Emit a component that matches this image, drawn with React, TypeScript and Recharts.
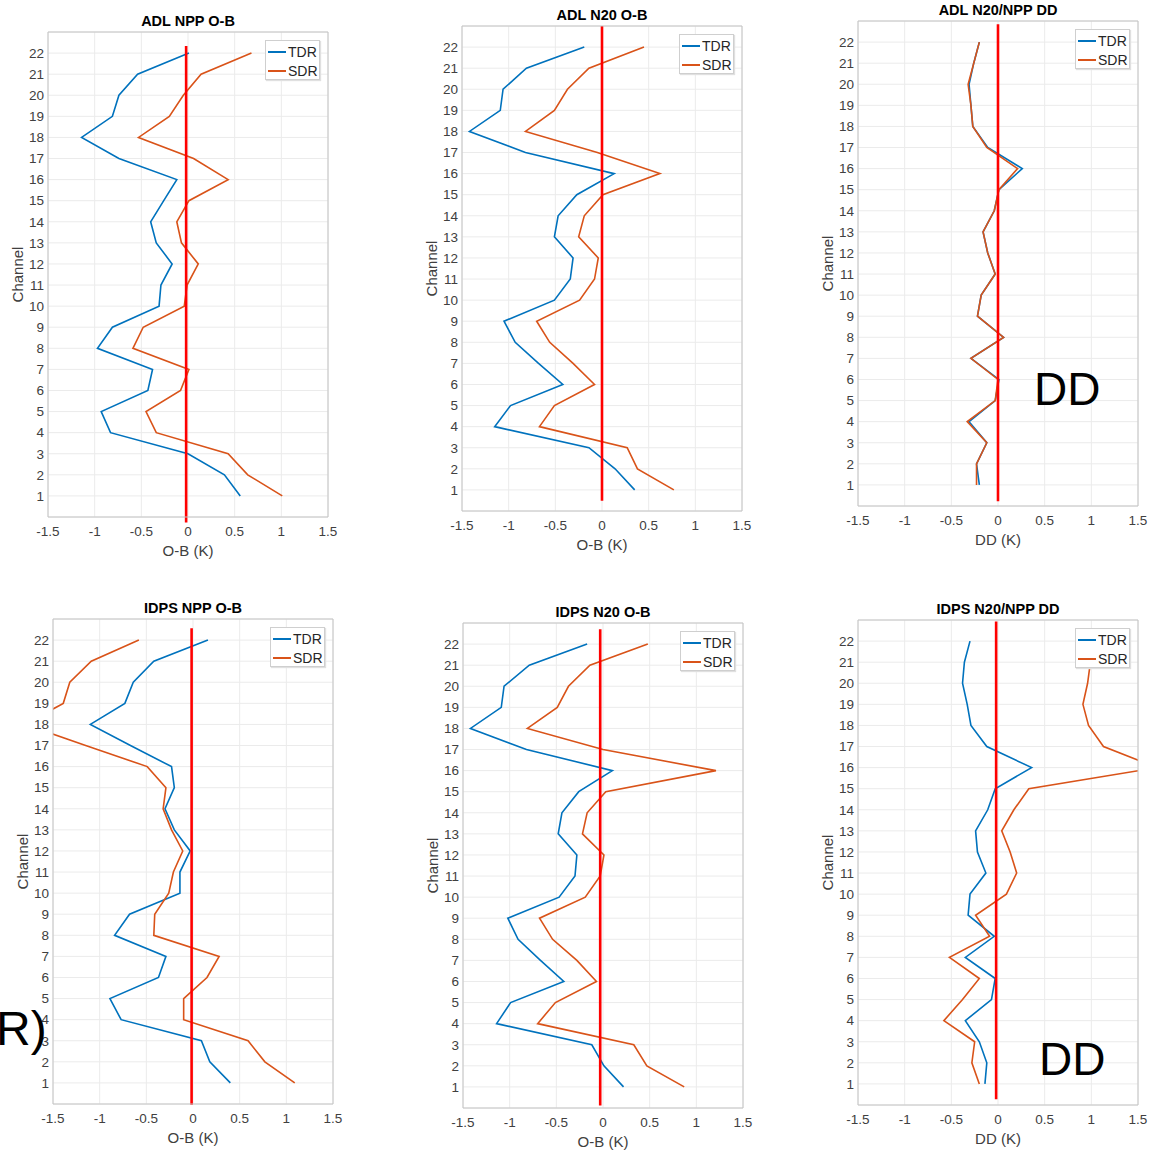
import React from "react";
import { LineChart, Line, XAxis, YAxis, CartesianGrid, ReferenceLine, Legend } from "recharts";

const channels = [1, 2, 3, 4, 5, 6, 7, 8, 9, 10, 11, 12, 13, 14, 15, 16, 17, 18, 19, 20, 21, 22];
const xTicks = [-1.5, -1, -0.5, 0, 0.5, 1, 1.5];

// ADL NPP O-B
const adlNppTdr = [0.56, 0.39, 0.0, -0.83, -0.93, -0.43, -0.38, -0.97, -0.81, -0.31, -0.29, -0.17, -0.34, -0.4, -0.26, -0.12, -0.74, -1.14, -0.81, -0.74, -0.54, 0.01];
const adlNppSdr = [1.01, 0.64, 0.43, -0.34, -0.45, -0.08, 0.01, -0.59, -0.48, -0.04, -0.01, 0.11, -0.07, -0.12, 0.01, 0.43, 0.06, -0.53, -0.2, -0.05, 0.14, 0.68];
// ADL N20 O-B
const adlN20Tdr = [0.35, 0.14, -0.14, -1.15, -0.98, -0.42, -0.68, -0.93, -1.05, -0.51, -0.34, -0.31, -0.51, -0.47, -0.27, 0.13, -0.82, -1.42, -1.09, -1.06, -0.81, -0.19];
const adlN20Sdr = [0.77, 0.38, 0.27, -0.67, -0.51, -0.08, -0.31, -0.56, -0.7, -0.24, -0.08, -0.04, -0.25, -0.19, 0.01, 0.62, -0.05, -0.82, -0.51, -0.37, -0.14, 0.45];
// ADL N20/NPP DD
const adlDdTdr = [-0.2, -0.23, -0.12, -0.31, -0.03, 0.01, -0.29, 0.06, -0.22, -0.18, -0.03, -0.11, -0.16, -0.04, 0.01, 0.26, -0.11, -0.27, -0.29, -0.31, -0.26, -0.2];
const adlDdSdr = [-0.23, -0.23, -0.12, -0.33, -0.03, 0.0, -0.29, 0.06, -0.22, -0.18, -0.03, -0.11, -0.16, -0.04, 0.01, 0.21, -0.12, -0.27, -0.29, -0.32, -0.26, -0.2];
// IDPS NPP O-B
const idpsNppTdr = [0.4, 0.18, 0.09, -0.77, -0.89, -0.37, -0.29, -0.84, -0.68, -0.14, -0.14, -0.03, -0.2, -0.3, -0.2, -0.23, -0.67, -1.1, -0.73, -0.64, -0.42, 0.16];
const idpsNppSdr = [1.09, 0.77, 0.59, -0.1, -0.1, 0.15, 0.28, -0.42, -0.41, -0.26, -0.21, -0.11, -0.23, -0.32, -0.29, -0.49, -1.15, -1.8, -1.39, -1.32, -1.09, -0.58];
// IDPS N20 O-B
const idpsN20Tdr = [0.22, 0.01, -0.12, -1.14, -0.99, -0.42, -0.67, -0.91, -1.02, -0.47, -0.3, -0.28, -0.48, -0.44, -0.26, 0.1, -0.82, -1.42, -1.09, -1.06, -0.79, -0.17];
const idpsN20Sdr = [0.87, 0.47, 0.33, -0.7, -0.51, -0.07, -0.28, -0.54, -0.68, -0.19, -0.03, 0.01, -0.22, -0.17, 0.03, 1.21, 0.0, -0.81, -0.49, -0.37, -0.14, 0.48];
// IDPS N20/NPP DD
const idpsDdTdr = [-0.14, -0.12, -0.2, -0.35, -0.07, -0.03, -0.35, -0.04, -0.32, -0.3, -0.13, -0.22, -0.24, -0.11, -0.03, 0.36, -0.12, -0.29, -0.33, -0.38, -0.36, -0.3];
const idpsDdSdr = [-0.2, -0.28, -0.25, -0.58, -0.38, -0.2, -0.52, -0.09, -0.24, 0.09, 0.2, 0.13, 0.04, 0.17, 0.33, 1.7, 1.13, 0.97, 0.91, 0.96, 0.99, 1.0];

const BLUE = "#0072BD";
const ORANGE = "#D95319";
const TEXT = "#404040";
const AXIS = "#c4c4c4";
const TICK = "#8c8c8c";
const FONT = '"Liberation Sans", Arial, sans-serif';

// plot-area position on the page, red zero line extent
const panels = [
  { title: "ADL NPP O-B", xLabel: "O-B (K)", tdr: adlNppTdr, sdr: adlNppSdr, left: 48, top: 32, refX: -0.02, refY: [-0.26, 22.34] },
  { title: "ADL N20 O-B", xLabel: "O-B (K)", tdr: adlN20Tdr, sdr: adlN20Sdr, left: 462, top: 26, refX: 0, refY: [0.49, 23] },
  { title: "ADL N20/NPP DD", xLabel: "DD (K)", tdr: adlDdTdr, sdr: adlDdSdr, left: 858, top: 21, refX: 0, refY: [0.23, 22.84] },
  { title: "IDPS NPP O-B", xLabel: "O-B (K)", tdr: idpsNppTdr, sdr: idpsNppSdr, left: 53, top: 619, refX: -0.015, refY: [-0.04, 22.56] },
  { title: "IDPS N20 O-B", xLabel: "O-B (K)", tdr: idpsN20Tdr, sdr: idpsN20Sdr, left: 463, top: 623, refX: -0.03, refY: [0.12, 22.7] },
  { title: "IDPS N20/NPP DD", xLabel: "DD (K)", tdr: idpsDdTdr, sdr: idpsDdSdr, left: 858, top: 620, refX: -0.02, refY: [0.27, 22.93] },
];

function LegendBox() {
  const rows = [["TDR", BLUE], ["SDR", ORANGE]];
  return (
    <div style={{ width: 55, height: 40, boxSizing: "border-box", background: "#fff", border: "1px solid #cfcfcf",
      boxShadow: "1px 1px 1px #e0e0e0", padding: "1px 0 0 2px", fontSize: 14, color: "#262626", fontFamily: FONT }}>
      {rows.map(([name, color]) => (
        <div key={name} style={{ display: "flex", alignItems: "center", height: 19 }}>
          <span style={{ display: "inline-block", width: 18, borderTop: `2px solid ${color}`, marginRight: 2 }} />
          {name}
        </div>
      ))}
    </div>
  );
}

function Panel({ cfg }: { cfg: typeof panels[number] }) {
  const data = channels.map((ch, i) => ({ ch, tdr: cfg.tdr[i], sdr: cfg.sdr[i] }));
  return (
    <div style={{ position: "absolute", left: cfg.left - 60, top: cfg.top - 22 }}>
      <LineChart layout="vertical" width={350} height={575} data={data}
        margin={{ top: 0, right: 10, bottom: 0, left: 0 }}>
        <CartesianGrid stroke="#ebebeb" />
        <XAxis type="number" domain={[-1.5, 1.5]} ticks={xTicks} allowDataOverflow height={68}
          axisLine={{ stroke: AXIS }} tickLine={false} tickSize={2} tickMargin={7}
          tick={{ fill: TEXT, fontSize: 13.5 }}
          label={{ value: cfg.xLabel, position: "center", fill: TEXT, fontSize: 15 }} />
        <XAxis xAxisId="title" orientation="top" type="number" domain={[-1.5, 1.5]} height={22}
          axisLine={false} tickLine={false} tick={false}
          label={{ value: cfg.title, position: "center", fill: "#000", fontSize: 14.5, fontWeight: "bold" }} />
        <XAxis xAxisId="boxTop" orientation="top" mirror type="number" domain={[-1.5, 1.5]} ticks={xTicks}
          tick={false} tickSize={5} axisLine={{ stroke: AXIS }} tickLine={{ stroke: TICK }} />
        <XAxis xAxisId="boxBottom" orientation="bottom" mirror type="number" domain={[-1.5, 1.5]} ticks={xTicks}
          tick={false} tickSize={5} axisLine={false} tickLine={{ stroke: AXIS }} />
        <YAxis type="number" dataKey="ch" domain={[0, 23]} ticks={channels} interval={0} width={60} reversed
          axisLine={{ stroke: AXIS }} tickLine={false} tickSize={2} tickMargin={2}
          tick={{ fill: TEXT, fontSize: 13.5 }}
          label={{ value: "Channel", angle: -90, position: "center", fill: TEXT, fontSize: 15 }} />
        <YAxis yAxisId="boxRight" orientation="right" mirror type="number" dataKey="ch" domain={[0, 23]} reversed
          ticks={channels} interval={0} tick={false} tickSize={5} axisLine={{ stroke: AXIS }} tickLine={{ stroke: TICK }} />
        <YAxis yAxisId="boxLeft" orientation="left" mirror type="number" dataKey="ch" domain={[0, 23]} reversed
          ticks={channels} interval={0} tick={false} tickSize={5} axisLine={false} tickLine={{ stroke: AXIS }} />
        <Line dataKey="tdr" name="TDR" stroke={BLUE} strokeWidth={1.6} dot={false} isAnimationActive={false} />
        <Line dataKey="sdr" name="SDR" stroke={ORANGE} strokeWidth={1.6} dot={false} isAnimationActive={false} />
        <ReferenceLine ifOverflow="visible" stroke="#ff0000" strokeWidth={2.6}
          segment={[{ x: cfg.refX, y: cfg.refY[0] }, { x: cfg.refX, y: cfg.refY[1] }]} />
        <Legend layout="vertical" align="center" verticalAlign="middle" content={() => <LegendBox />}
          wrapperStyle={{ left: 277, top: 30, width: 55, height: 40 }} />
      </LineChart>
    </div>
  );
}

export default function App() {
  return (
    <div style={{ position: "absolute", left: 0, top: 0, width: 1153, height: 1153, background: "#fff",
      fontFamily: FONT, overflow: "hidden" }}>
      {panels.map((p) => <Panel key={p.title} cfg={p} />)}
      <div style={{ position: "absolute", left: 1034, top: 366, fontSize: 46, lineHeight: "46px", color: "#000" }}>DD</div>
      <div style={{ position: "absolute", left: 1039, top: 1036, fontSize: 46, lineHeight: "46px", color: "#000" }}>DD</div>
      <div style={{ position: "absolute", left: -4, top: 1005, fontSize: 48, lineHeight: "48px", color: "#000" }}>R)</div>
    </div>
  );
}
